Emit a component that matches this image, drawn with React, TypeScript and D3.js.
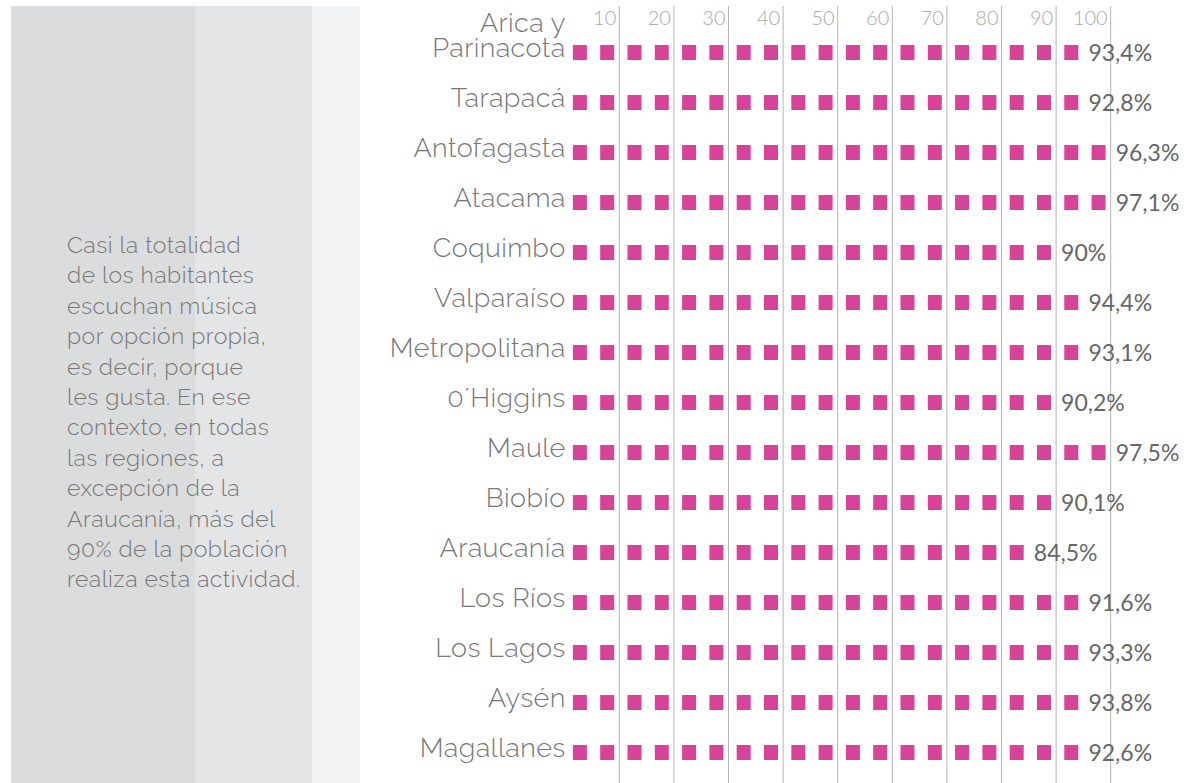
import { useMemo } from "react"
import * as d3 from "d3"

const regions = [
  "Arica y Parinacota",
  "Tarapacá",
  "Antofagasta",
  "Atacama",
  "Coquimbo",
  "Valparaíso",
  "Metropolitana",
  "0´Higgins",
  "Maule",
  "Biobío",
  "Araucanía",
  "Los Ríos",
  "Los Lagos",
  "Aysén",
  "Magallanes",
]
const values = [93.4, 92.8, 96.3, 97.1, 90, 94.4, 93.1, 90.2, 97.5, 90.1, 84.5, 91.6, 93.3, 93.8, 92.6]
// squares drawn per row, each one stands for 5 points
const squares = [19, 19, 20, 20, 18, 19, 19, 18, 20, 18, 17, 19, 19, 19, 19]
const ticks = [10, 20, 30, 40, 50, 60, 70, 80, 90, 100]
const note = [
  "Casi la totalidad",
  "de los habitantes",
  "escuchan música",
  "por opción propia,",
  "es decir, porque",
  "les gusta. En ese",
  "contexto, en todas",
  "las regiones, a",
  "excepción de la",
  "Araucanía, más del",
  "90% de la población",
  "realiza esta actividad.",
]

const fmt = (v: number) => String(v).replace(".", ",") + "%"

export default function App() {
  const width = 1184
  const height = 783
  const font = "Raleway, Lato, 'Open Sans', sans-serif"
  const numFont = "Lato, 'Open Sans', sans-serif"

  const x = useMemo(() => d3.scaleLinear().domain([0, 100]).range([564.7, 1110.7]), [])
  const y = useMemo(() => d3.scalePoint().domain(regions).range([52.5, 752.5]), [])
  const step = x(5) - x(0)
  const sqW = 14
  const sqH = 15

  return (
    <div style={{ position: "absolute", left: 0, top: 0 }}>
      <svg width={width} height={height} style={{ display: "block", background: "#fff" }}>
        <rect x={11} y={6} width={184} height={height - 6} fill="#dbdcde" />
        <rect x={195} y={6} width={117} height={height - 6} fill="#e4e5e7" />
        <rect x={312} y={6} width={48} height={height - 6} fill="#f1f2f4" />

        {note.map((line, i) => (
          <text
            key={i}
            x={67}
            y={253 + i * 30.4}
            fontFamily={font}
            fontWeight={300}
            fontSize={23}
            letterSpacing={0.5}
            fill="#777"
          >
            {line}
          </text>
        ))}

        {ticks.map((t) => (
          <g key={t}>
            <line x1={x(t)} x2={x(t)} y1={6} y2={height} stroke="#b4b4b4" strokeWidth={1} />
            <text
              x={x(t) - 3}
              y={25}
              textAnchor="end"
              fontFamily={numFont}
              fontWeight={300}
              fontSize={20}
              fill="#aaa"
            >
              {t}
            </text>
          </g>
        ))}

        {regions.map((r, i) => {
          const cy = y(r) ?? 0
          const n = squares[i]
          const parts = r === "Arica y Parinacota" ? ["Arica y", "Parinacota"] : [r]
          return (
            <g key={r}>
              <text
                textAnchor="end"
                fontFamily={font}
                fontWeight={300}
                fontSize={27}
                letterSpacing={0.4}
                fill="#777"
              >
                {parts.map((p, j) => (
                  <tspan key={p} x={x(0) + 1} y={cy + 4 - (parts.length - 1 - j) * 25}>
                    {p}
                  </tspan>
                ))}
              </text>
              {d3.range(n).map((k) => (
                <rect
                  key={k}
                  x={x(k * 5) + step * 0.3}
                  y={cy - sqH / 2}
                  width={sqW}
                  height={sqH}
                  fill="#d8439a"
                />
              ))}
              <text
                x={x(n * 5) + 5}
                y={cy + 8.5}
                fontFamily={numFont}
                fontWeight={400}
                fontSize={23}
                fill="#666"
              >
                {fmt(values[i])}
              </text>
            </g>
          )
        })}
      </svg>
    </div>
  )
}
